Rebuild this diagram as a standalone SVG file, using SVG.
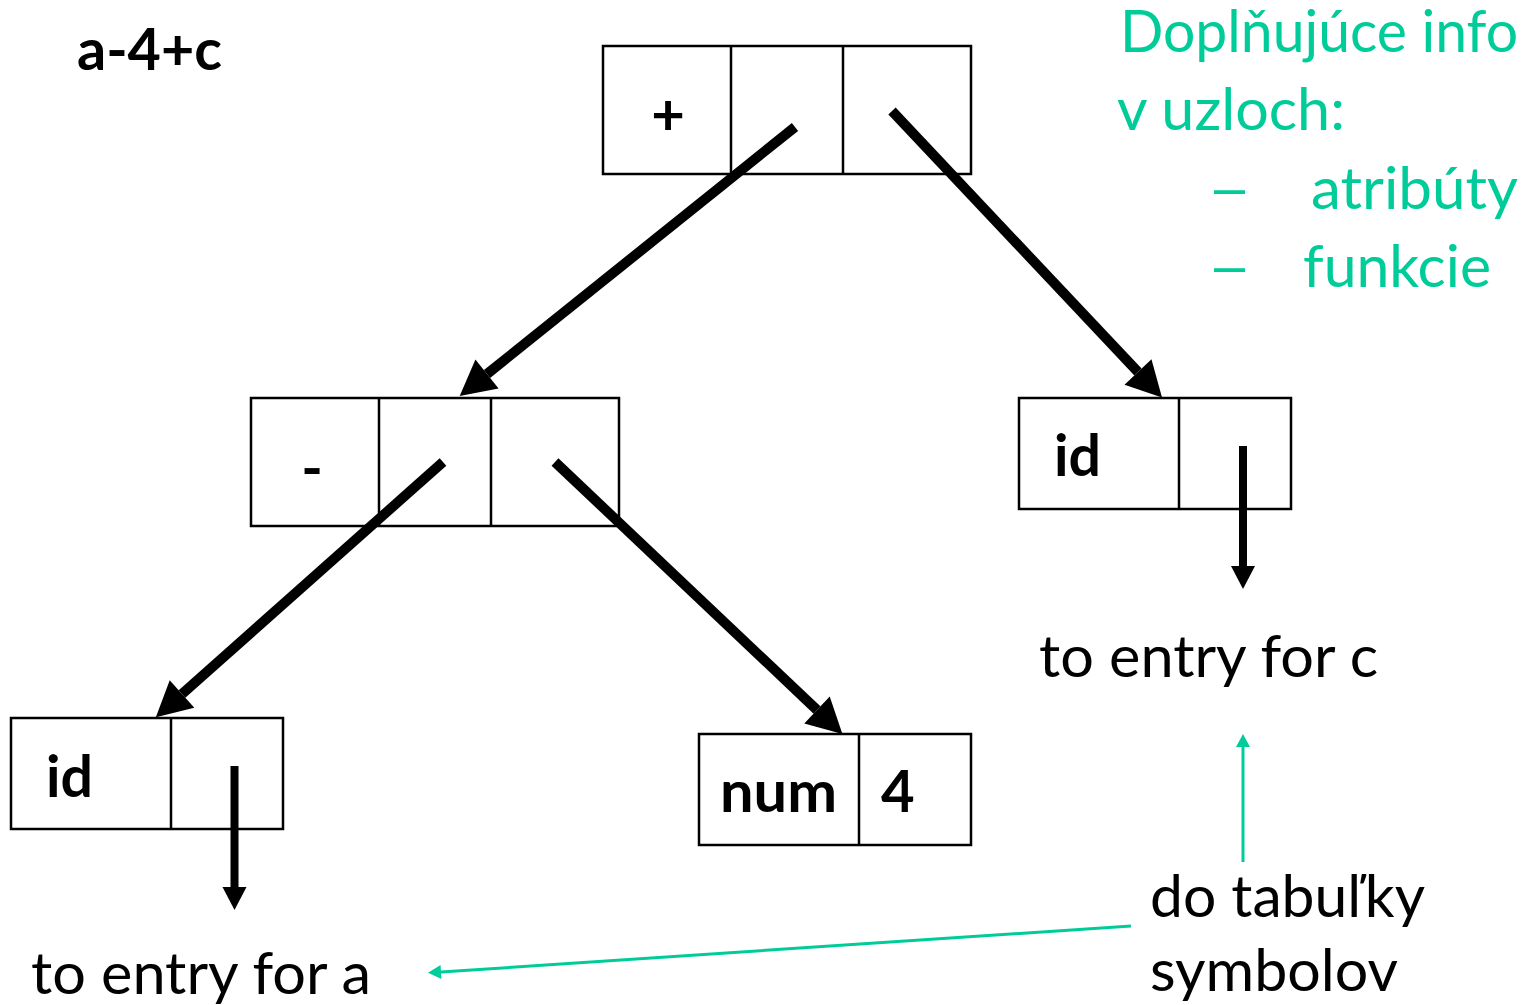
<svg xmlns="http://www.w3.org/2000/svg" width="1527" height="1005" viewBox="0 0 1527 1005">
  <style>
    .box { fill: #ffffff; stroke: #000000; stroke-width: 2.5; }
    .div { stroke: #000000; stroke-width: 2.5; }
    .lbl { font-family: Lato, "Liberation Sans", sans-serif; font-weight: bold; font-size: 58px; fill: #000000; }
    .txt { font-family: Lato, "Liberation Sans", sans-serif; font-size: 58px; fill: #000000; }
    .note { font-family: Lato, "Liberation Sans", sans-serif; font-size: 58px; fill: #00CC99; }
    .ptr { stroke: #000000; stroke-width: 10; fill: none; }
    .ref { stroke: #000000; stroke-width: 8; fill: none; }
    .hint { stroke: #00CC99; stroke-width: 3; fill: none; }
  </style>
  <defs>
    <marker id="bigHead" markerUnits="userSpaceOnUse" markerWidth="36" markerHeight="37" refX="0" refY="18.5" orient="auto" overflow="visible">
      <path d="M0,0 L35,18.5 L0,37 Z" fill="#000000"/>
    </marker>
    <marker id="smallHead" markerUnits="userSpaceOnUse" markerWidth="24" markerHeight="24" refX="0" refY="12" orient="auto" overflow="visible">
      <path d="M0,0 L23,12 L0,24 Z" fill="#000000"/>
    </marker>
    <marker id="greenHead" markerUnits="userSpaceOnUse" markerWidth="14" markerHeight="14" refX="0" refY="7" orient="auto" overflow="visible">
      <path d="M0,0 L13,7 L0,14 Z" fill="#00CC99"/>
    </marker>
  </defs>

  <!-- expression -->
  <text id="expr" class="lbl" x="77" y="70" textLength="145" lengthAdjust="spacingAndGlyphs">a-4+c</text>

  <!-- side note -->
  <g id="note">
    <text class="note" x="1120" y="52" textLength="398" lengthAdjust="spacingAndGlyphs">Doplňujúce info</text>
    <text class="note" x="1117" y="130" textLength="228" lengthAdjust="spacingAndGlyphs">v uzloch:</text>
    <text class="note" x="1207" y="209" textLength="45" lengthAdjust="spacingAndGlyphs">–</text>
    <text class="note" x="1311" y="209" textLength="207" lengthAdjust="spacingAndGlyphs">atribúty</text>
    <text class="note" x="1207" y="287" textLength="45" lengthAdjust="spacingAndGlyphs">–</text>
    <text class="note" x="1303" y="287" textLength="188" lengthAdjust="spacingAndGlyphs">funkcie</text>
  </g>

  <!-- nodes -->
  <g id="node-plus">
    <rect class="box" x="603" y="46" width="368" height="128"/>
    <line class="div" x1="731" y1="46" x2="731" y2="174"/>
    <line class="div" x1="843" y1="46" x2="843" y2="174"/>
    <text class="lbl" x="668" y="135" text-anchor="middle">+</text>
  </g>

  <g id="node-minus">
    <rect class="box" x="251" y="398" width="368" height="128"/>
    <line class="div" x1="379" y1="398" x2="379" y2="526"/>
    <line class="div" x1="491" y1="398" x2="491" y2="526"/>
    <text class="lbl" x="312" y="488" text-anchor="middle">-</text>
  </g>

  <g id="node-id-a">
    <rect class="box" x="11" y="718" width="272" height="111"/>
    <line class="div" x1="171" y1="718" x2="171" y2="829"/>
    <text class="lbl" x="46" y="797" textLength="47" lengthAdjust="spacingAndGlyphs">id</text>
  </g>

  <g id="node-num">
    <rect class="box" x="699" y="734" width="272" height="111"/>
    <line class="div" x1="859" y1="734" x2="859" y2="845"/>
    <text class="lbl" x="720" y="812" textLength="117" lengthAdjust="spacingAndGlyphs">num</text>
    <text class="lbl" x="881" y="812">4</text>
  </g>

  <g id="node-id-c">
    <rect class="box" x="1019" y="398" width="272" height="111"/>
    <line class="div" x1="1179" y1="398" x2="1179" y2="509"/>
    <text class="lbl" x="1054" y="476" textLength="47" lengthAdjust="spacingAndGlyphs">id</text>
  </g>

  <!-- symbol table targets -->
  <text id="entry-a" class="txt" x="31" y="994" textLength="340" lengthAdjust="spacingAndGlyphs">to entry for a</text>
  <text id="entry-c" class="txt" x="1039" y="677" textLength="339" lengthAdjust="spacingAndGlyphs">to entry for c</text>
  <g id="symtab">
    <text class="txt" x="1150" y="917" textLength="275" lengthAdjust="spacingAndGlyphs">do tabuľky</text>
    <text class="txt" x="1150" y="991" textLength="248" lengthAdjust="spacingAndGlyphs">symbolov</text>
  </g>

  <!-- connectors -->
  <g id="connectors">
    <line class="ptr" x1="795" y1="127" x2="487" y2="374" marker-end="url(#bigHead)"/>
    <line class="ptr" x1="892" y1="111" x2="1138" y2="372" marker-end="url(#bigHead)"/>
    <line class="ptr" x1="443" y1="462" x2="182" y2="694" marker-end="url(#bigHead)"/>
    <line class="ptr" x1="555" y1="462" x2="817" y2="710" marker-end="url(#bigHead)"/>
    <line class="ref" x1="234.5" y1="766" x2="234.5" y2="887" marker-end="url(#smallHead)"/>
    <line class="ref" x1="1243" y1="446" x2="1243" y2="566" marker-end="url(#smallHead)"/>
    <line class="hint" x1="1243" y1="862" x2="1243" y2="747" marker-end="url(#greenHead)"/>
    <line class="hint" x1="1131" y1="926" x2="441" y2="972" marker-end="url(#greenHead)"/>
  </g>
</svg>
